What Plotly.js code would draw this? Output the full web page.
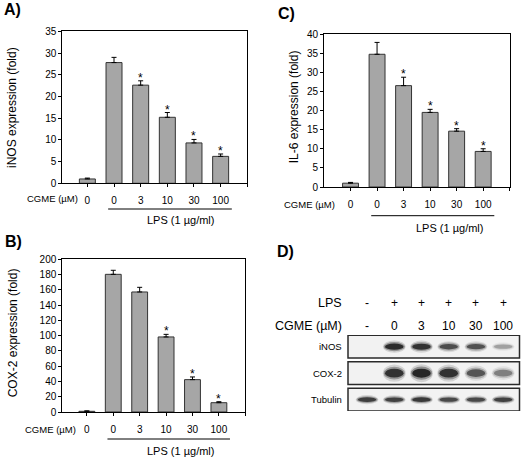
<!DOCTYPE html>
<html>
<head>
<meta charset="utf-8">
<script src="https://cdn.plot.ly/plotly-3.0.1.min.js"></script>
<style>html,body{margin:0;padding:0;background:#fff;}#chart{width:521px;height:459px;}</style>
</head>
<body>
<div id="chart"></div>
<script>
// ---------- data ----------
const cats = ['0', '0', '3', '10', '30', '100'];
const lpsRow = ['-', '+', '+', '+', '+', '+'];
const cgmeRow = ['-', '0', '3', '10', '30', '100'];

const inosMean = [1.0, 27.8, 22.6, 15.2, 9.3, 6.2];
const inosErr  = [0.2, 1.2, 1.0, 1.1, 0.8, 0.55];
const inosSig  = ['', '', '*', '*', '*', '*'];

const cox2Mean = [0.9, 180.3, 157.2, 98.3, 42.4, 12.2];
const cox2Err  = [0.6, 5.3, 6.1, 3.4, 3.5, 1.3];
const cox2Sig  = ['', '', '', '*', '*', '*'];

const il6Mean = [1.0, 34.7, 26.5, 19.5, 14.6, 9.3];
const il6Err  = [0.2, 3.1, 2.2, 0.8, 0.65, 0.7];
const il6Sig  = ['', '', '*', '*', '*', '*'];

const blotProteins = ['iNOS', 'COX-2', 'Tubulin'];
const inosBand    = [0, 0.95, 0.9, 0.72, 0.7, 0.3];
const cox2Band    = [0, 0.9, 1.0, 0.92, 0.68, 0.45];
const tubulinBand = [0.82, 0.8, 0.85, 0.75, 0.75, 0.8];

// ---------- helpers ----------
const W = 521, H = 459;
const px = v => v / W;
const py = v => 1 - v / H;
const FONT = 'Arial, "Liberation Sans", sans-serif';
const pos = cats.map((_, i) => i + 1);
const tickPos = pos.concat([pos.length + 1]);
const tickTxt = cats.concat(['']);

const layout = {
  width: W, height: H, margin: {l: 0, r: 0, t: 0, b: 0},
  paper_bgcolor: '#fff', plot_bgcolor: '#fff', showlegend: false, bargap: 0,
  font: {family: FONT, color: '#000'},
  shapes: [], annotations: []
};

function barTraces(mean, err, sig, xa, ya) {
  sig.forEach((s, i) => {
    if (!s) return;
    layout.annotations.push({text: s, xref: xa, yref: ya, x: pos[i], y: mean[i] + err[i],
      xanchor: 'center', yanchor: 'bottom', yshift: -6, showarrow: false,
      font: {family: FONT, size: 12, color: '#000'}});
  });
  return [{
    type: 'bar', x: pos, y: mean, xaxis: xa, yaxis: ya, width: 0.6,
    marker: {color: '#a6a6a6', line: {color: '#333333', width: 1}},
    error_y: {type: 'data', symmetric: false, array: err, arrayminus: err.map(() => 0),
              color: '#000', thickness: 1, width: 2.5},
    hoverinfo: 'none', showlegend: false
  }];
}

const data = []
  .concat(barTraces(inosMean, inosErr, inosSig, 'x', 'y'))
  .concat(barTraces(cox2Mean, cox2Err, cox2Sig, 'x2', 'y2'))
  .concat(barTraces(il6Mean, il6Err, il6Sig, 'x3', 'y3'));

// invisible anchor trace for blot axes
data.push({type: 'scatter', mode: 'markers', x: pos, y: pos.map(() => 1), xaxis: 'x4', yaxis: 'y4',
  marker: {opacity: 0}, hoverinfo: 'none', showlegend: false});

function xAxis(dom, range, anchor) {
  return {
    domain: dom, range: range, anchor: anchor, showline: true, linecolor: '#000', linewidth: 1,
    mirror: true, ticks: 'outside', ticklen: 3, tickcolor: '#000', tickwidth: 1,
    tickmode: 'array', tickvals: tickPos, ticktext: tickTxt, ticklabelstandoff: 5,
    tickfont: {family: FONT, size: 10, color: '#000'}, showgrid: false, zeroline: false, fixedrange: true
  };
}
function yAxis(dom, range, dtick, anchor) {
  return {
    domain: dom, range: range, anchor: anchor, showline: true, linecolor: '#000', linewidth: 1,
    mirror: true, ticks: 'outside', ticklen: 3, tickcolor: '#000', tickwidth: 1,
    dtick: dtick, tick0: 0, tickfont: {family: FONT, size: 10, color: '#000'},
    showgrid: false, zeroline: false, fixedrange: true
  };
}

Object.assign(layout, {
  xaxis:  xAxis([px(62.3), px(247.3)], [0.06, 7.0], 'y'),
  yaxis:  yAxis([py(183.3), py(31.3)], [0, 35], 5, 'x'),
  xaxis2: xAxis([px(62.3), px(245.3)], [0.07, 7.0], 'y2'),
  yaxis2: yAxis([py(412), py(259.3)], [0, 200], 20, 'x2'),
  xaxis3: xAxis([px(324), px(509.7)], [0, 7.0], 'y3'),
  yaxis3: yAxis([py(187), py(34)], [0, 40], 5, 'x3'),
  xaxis4: {domain: [px(348), px(519.5)], range: [0.3, 6.6], anchor: 'y4', visible: false, fixedrange: true},
  yaxis4: {domain: [py(411), py(335)], range: [0, 2.868], anchor: 'x4', visible: false, fixedrange: true}
});

// panel letters
[['A)', 2, 10], ['C)', 276, 13], ['B)', 3, 241.5], ['D)', 275, 251.5]].forEach(([t, x, y]) => {
  layout.annotations.push({text: '<b>' + t + '</b>', xref: 'paper', yref: 'paper', x: px(x), y: py(y),
    xanchor: 'left', yanchor: 'middle', showarrow: false, font: {family: FONT, size: 16, color: '#000'}});
});

// y titles
[['iNOS expression (fold)', 12.7, 107.3], ['COX-2 expression (fold)', 13.3, 333], ['IL-6 expression (fold)', 294.3, 107]]
  .forEach(([t, x, y]) => {
    layout.annotations.push({text: t, xref: 'paper', yref: 'paper', x: px(x), y: py(y), textangle: -90,
      xanchor: 'center', yanchor: 'middle', showarrow: false, font: {family: FONT, size: 12, color: '#000'}});
  });

// CGME row labels + LPS underline and text
[['x', 52.5, 199, 209, 180, 220], ['x2', 50, 429, 439, 180, 451], ['x3', 309, 204, 215.7, 449, 228]]
  .forEach(([xa, cx, cy, ly, lx, lty]) => {
    layout.annotations.push({text: 'CGME (µM)', xref: 'paper', yref: 'paper', x: px(cx), y: py(cy),
      xanchor: 'center', yanchor: 'middle', showarrow: false, font: {family: FONT, size: 9.5, color: '#000'}});
    const lpsIdx = lpsRow.map((v, i) => v === '+' ? i + 1 : null).filter(v => v !== null);
    layout.shapes.push({type: 'line', xref: xa, yref: 'paper',
      x0: Math.min(...lpsIdx) - 0.22, x1: Math.max(...lpsIdx) + 0.42, y0: py(ly), y1: py(ly),
      line: {color: '#000', width: 1}});
    layout.annotations.push({text: 'LPS (1 µg/ml)', xref: 'paper', yref: 'paper', x: px(lx), y: py(lty),
      xanchor: 'center', yanchor: 'middle', showarrow: false, font: {family: FONT, size: 11, color: '#000'}});
  });

// ---------- western blot panel ----------
layout.annotations.push({text: 'LPS', xref: 'paper', yref: 'paper', x: px(343.5), y: py(302.7),
  xanchor: 'right', yanchor: 'middle', showarrow: false, font: {family: FONT, size: 12.5, color: '#000'}});
layout.annotations.push({text: 'CGME (µM)', xref: 'paper', yref: 'paper', x: px(343.5), y: py(325.7),
  xanchor: 'right', yanchor: 'middle', showarrow: false, font: {family: FONT, size: 12.5, color: '#000'}});
pos.forEach((p, i) => {
  layout.annotations.push({text: lpsRow[i], xref: 'x4', yref: 'paper', x: p, y: py(302.7),
    xanchor: 'center', yanchor: 'middle', showarrow: false, font: {family: FONT, size: 12, color: '#000'}});
  layout.annotations.push({text: cgmeRow[i], xref: 'x4', yref: 'paper', x: p, y: py(325.7),
    xanchor: 'center', yanchor: 'middle', showarrow: false, font: {family: FONT, size: 12, color: '#000'}});
});

const bands = [inosBand, cox2Band, tubulinBand];
const bandH = [0.28, 0.40, 0.22];
const boxH = 0.857;
blotProteins.forEach((name, i) => {
  const row = blotProteins.length - 1 - i;
  layout.shapes.push({type: 'rect', xref: 'x4 domain', yref: 'y4', x0: 0, x1: 1, y0: row, y1: row + boxH,
    fillcolor: '#f2f2f2', line: {color: '#2a2a2a', width: 1.5}});
  layout.annotations.push({text: name, xref: 'paper', yref: 'y4', x: px(344), y: row + boxH / 2,
    xanchor: 'right', yanchor: 'middle', showarrow: false, font: {family: FONT, size: 9.5, color: '#000'}});
  const yc = row + boxH / 2;
  bands[i].forEach((v, j) => {
    if (v <= 0) return;
    const h = bandH[i] * (0.55 + 0.45 * v);
    [[0.42, 1.7, 0.15], [0.39, 1.25, 0.35], [0.34, 0.85, 0.85]].forEach(([hw, hs, op]) => {
      layout.shapes.push({type: 'circle', xref: 'x4', yref: 'y4',
        x0: pos[j] - hw, x1: pos[j] + hw, y0: yc - h * hs / 2, y1: yc + h * hs / 2,
        fillcolor: '#141414', opacity: op * v, line: {width: 0}});
    });
  });
});

Plotly.newPlot('chart', data, layout, {displayModeBar: false, staticPlot: true});
</script>
</body>
</html>
